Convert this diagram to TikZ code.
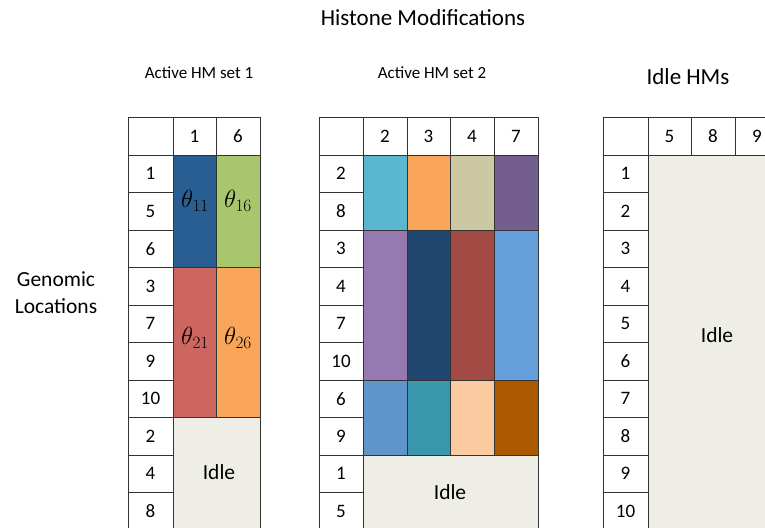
\documentclass[tikz,border=0pt]{standalone}
\usepackage{fontspec}
\setmainfont{Carlito}
\definecolor{cA}{HTML}{285E92}
\definecolor{cB}{HTML}{A8C66C}
\definecolor{cC}{HTML}{CD6560}
\definecolor{cD}{HTML}{F9A65A}
\definecolor{idlec}{HTML}{EFEEE6}
\definecolor{e1}{HTML}{5BB7CF}
\definecolor{e2}{HTML}{F9A65A}
\definecolor{e3}{HTML}{CDC8A4}
\definecolor{e4}{HTML}{745E8D}
\definecolor{f1}{HTML}{9579B0}
\definecolor{f2}{HTML}{1F4770}
\definecolor{f3}{HTML}{A34A44}
\definecolor{f4}{HTML}{65A0DC}
\definecolor{g1}{HTML}{5F95C8}
\definecolor{g2}{HTML}{3A97AE}
\definecolor{g3}{HTML}{FCCAA0}
\definecolor{g4}{HTML}{AB5A00}
\newcommand\cellnode[7]{\node[cellbox, fill=#6, minimum width={#4-#2}, minimum height={#5-#3}] (#1) at ({(#2+#4)/2},{(#3+#5)/2}) {#7};}
\begin{document}
\begin{tikzpicture}[x=1pt,y=-1pt,
  cellbox/.style={draw=black!80, line width=0.8pt, rectangle, inner sep=0pt, font=\fontsize{19}{19}\selectfont},
  title/.style={font=\fontsize{23}{23}\selectfont, inner sep=0pt},
  subtitle/.style={font=\fontsize{17}{17}\selectfont, inner sep=0pt},
  idletext/.style={font=\fontsize{21.5}{21.5}\selectfont, inner sep=0pt},
  thetatext/.style={font=\fontsize{26}{26}\selectfont, inner sep=0pt}]
\useasboundingbox[fill=white] (0,0) rectangle (765,527);

% titles
\node[title] (ttl) at (423,18) {Histone Modifications};
\node[subtitle] (s1) at (199,73) {Active HM set 1};
\node[subtitle] (s2) at (432,73) {Active HM set 2};
\node[title] (s3) at (688,77) {Idle HMs};
\node[font=\fontsize{21.5}{27}\selectfont, align=center, inner sep=0pt] (gl) at (56,293) {Genomic\\Locations};

% ---------- Table 1 ----------
\cellnode{t1h0}{128}{117}{173}{155}{white}{}
\cellnode{t1h1}{173}{117}{216}{155}{white}{1}
\cellnode{t1h2}{216}{117}{260}{155}{white}{6}
\foreach \lab [count=\i from 0] in {1,5,6,3,7,9,10,2,4,8}{
  \pgfmathsetmacro\ya{155+37.5*\i}
  \pgfmathsetmacro\yb{155+37.5*(\i+1)}
  \cellnode{t1r\i}{128}{\ya}{173}{\yb}{white}{\lab}
}
\cellnode{t1a}{173}{155}{216}{267.5}{cA}{}
\cellnode{t1b}{216}{155}{260}{267.5}{cB}{}
\cellnode{t1c}{173}{267.5}{216}{417.5}{cC}{}
\cellnode{t1d}{216}{267.5}{260}{417.5}{cD}{}
\cellnode{t1i}{173}{417.5}{260}{530}{idlec}{}
\node[thetatext] (th11) at (195,201) {$\theta_{11}$};
\node[thetatext] (th16) at (238,201) {$\theta_{16}$};
\node[thetatext] (th21) at (195,338) {$\theta_{21}$};
\node[thetatext] (th26) at (238,338) {$\theta_{26}$};
\node[idletext] (id1) at (219,472) {Idle};

% ---------- Table 2 ----------
\cellnode{t2h0}{319}{117}{363}{155}{white}{}
\cellnode{t2h1}{363}{117}{407}{155}{white}{2}
\cellnode{t2h2}{407}{117}{450}{155}{white}{3}
\cellnode{t2h3}{450}{117}{494}{155}{white}{4}
\cellnode{t2h4}{494}{117}{538}{155}{white}{7}
\foreach \lab [count=\i from 0] in {2,8,3,4,7,10,6,9,1,5}{
  \pgfmathsetmacro\ya{155+37.5*\i}
  \pgfmathsetmacro\yb{155+37.5*(\i+1)}
  \cellnode{t2r\i}{319}{\ya}{363}{\yb}{white}{\lab}
}
\cellnode{t2e1}{363}{155}{407}{230}{e1}{}
\cellnode{t2e2}{407}{155}{450}{230}{e2}{}
\cellnode{t2e3}{450}{155}{494}{230}{e3}{}
\cellnode{t2e4}{494}{155}{538}{230}{e4}{}
\cellnode{t2f1}{363}{230}{407}{380}{f1}{}
\cellnode{t2f2}{407}{230}{450}{380}{f2}{}
\cellnode{t2f3}{450}{230}{494}{380}{f3}{}
\cellnode{t2f4}{494}{230}{538}{380}{f4}{}
\cellnode{t2g1}{363}{380}{407}{455}{g1}{}
\cellnode{t2g2}{407}{380}{450}{455}{g2}{}
\cellnode{t2g3}{450}{380}{494}{455}{g3}{}
\cellnode{t2g4}{494}{380}{538}{455}{g4}{}
\cellnode{t2i}{363}{455}{538}{530}{idlec}{}
\node[idletext] (id2) at (450,492) {Idle};

% ---------- Table 3 ----------
\cellnode{t3h0}{603}{117}{648}{155}{white}{}
\cellnode{t3h1}{648}{117}{691}{155}{white}{5}
\cellnode{t3h2}{691}{117}{735}{155}{white}{8}
\cellnode{t3h3}{735}{117}{779}{155}{white}{9}
\foreach \lab [count=\i from 0] in {1,2,3,4,5,6,7,8,9,10}{
  \pgfmathsetmacro\ya{155+37.5*\i}
  \pgfmathsetmacro\yb{155+37.5*(\i+1)}
  \cellnode{t3r\i}{603}{\ya}{648}{\yb}{white}{\lab}
}
\cellnode{t3i}{648}{155}{779}{530}{idlec}{}
\node[idletext] (id3) at (717,335) {Idle};
\end{tikzpicture}
\end{document}
